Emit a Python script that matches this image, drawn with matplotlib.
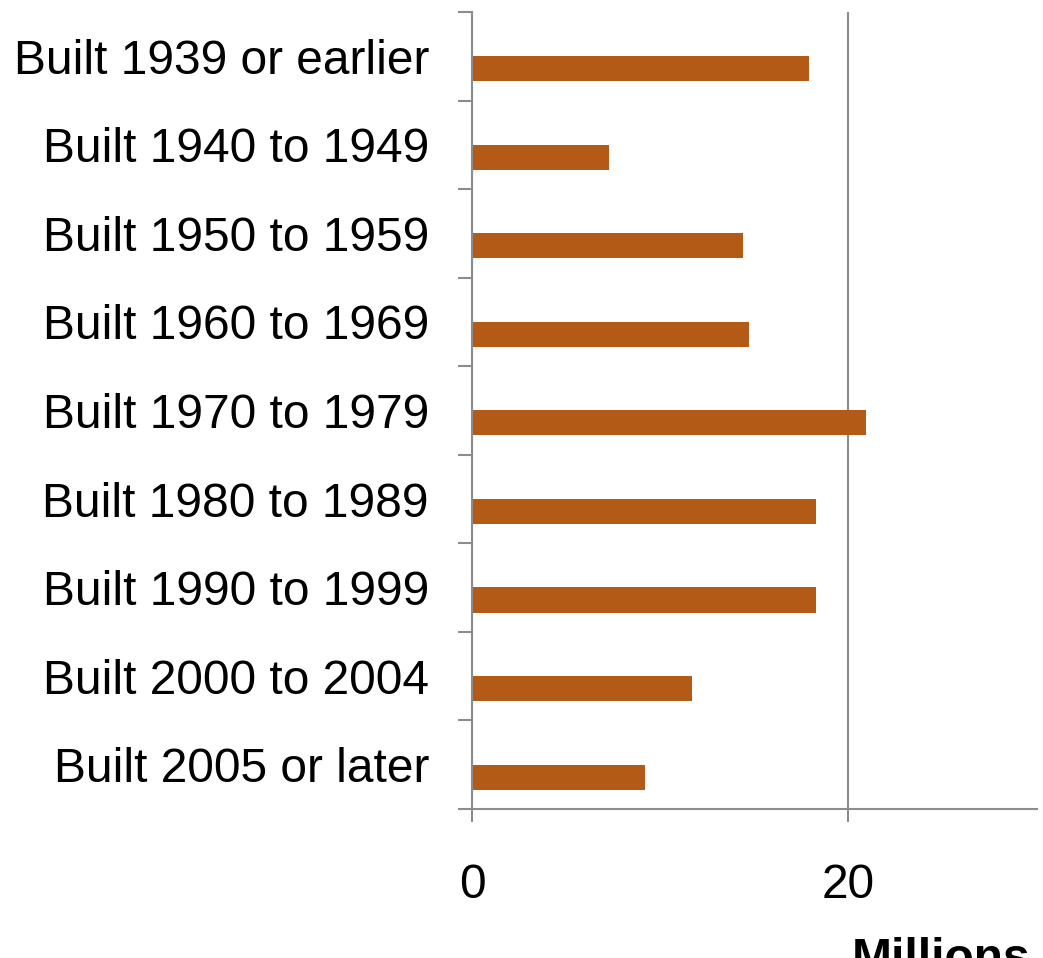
import numpy as np
import matplotlib
matplotlib.use("Agg")
import matplotlib.pyplot as plt
from matplotlib.ticker import FixedLocator

plt.rcParams['font.family'] = ['Liberation Sans', 'DejaVu Sans']

categories = [
    "Built 1939 or earlier",
    "Built 1940 to 1949",
    "Built 1950 to 1959",
    "Built 1960 to 1969",
    "Built 1970 to 1979",
    "Built 1980 to 1989",
    "Built 1990 to 1999",
    "Built 2000 to 2004",
    "Built 2005 or later",
]
units_millions = [17.9, 7.3, 14.4, 14.7, 20.95, 18.3, 18.25, 11.7, 9.2]
x_ticks = [0, 20]

BAR_COLOR = "#B35A17"
AXIS_COLOR = "#8C8C8C"


def main():
    fig = plt.figure(figsize=(10.43, 9.58), dpi=100)
    ax = fig.add_axes([0.4525, 0.1555, 0.994 - 0.4525, 0.9875 - 0.1555])

    pos = np.arange(len(categories))
    ax.barh(pos + 0.14, units_millions, height=0.283, color=BAR_COLOR, zorder=3)

    ax.set_ylim(len(categories) - 0.5, -0.5)
    ax.set_xlim(0, 30)

    # category labels at band centres, tick marks at band edges
    ax.set_yticks(pos)
    ax.set_yticklabels(categories, fontsize=34.5)
    ax.yaxis.set_minor_locator(FixedLocator(np.arange(-0.5, len(categories), 1.0)))
    ax.tick_params(axis='y', which='major', length=0, pad=31)
    ax.tick_params(axis='y', which='minor', length=10, width=1.5, color=AXIS_COLOR)

    ax.set_xticks(x_ticks)
    ax.set_xticklabels([str(t) for t in x_ticks], fontsize=34.5)
    ax.tick_params(axis='x', length=9, width=1.5, color=AXIS_COLOR, pad=30)
    ax.xaxis.grid(True, color=AXIS_COLOR, linewidth=1.5, zorder=0)

    for side in ('top', 'right'):
        ax.spines[side].set_visible(False)
    for side in ('left', 'bottom'):
        ax.spines[side].set_color(AXIS_COLOR)
        ax.spines[side].set_linewidth(1.5)
        ax.spines[side].set_zorder(4)

    # unit label sits at the bottom edge, partly below the figure
    fig.text(852 / 1043, -0.0146, "Millions", fontsize=34.5, fontweight='bold',
             ha='left', va='baseline')

    fig.savefig("out.png", dpi=100)


if __name__ == "__main__":
    main()
